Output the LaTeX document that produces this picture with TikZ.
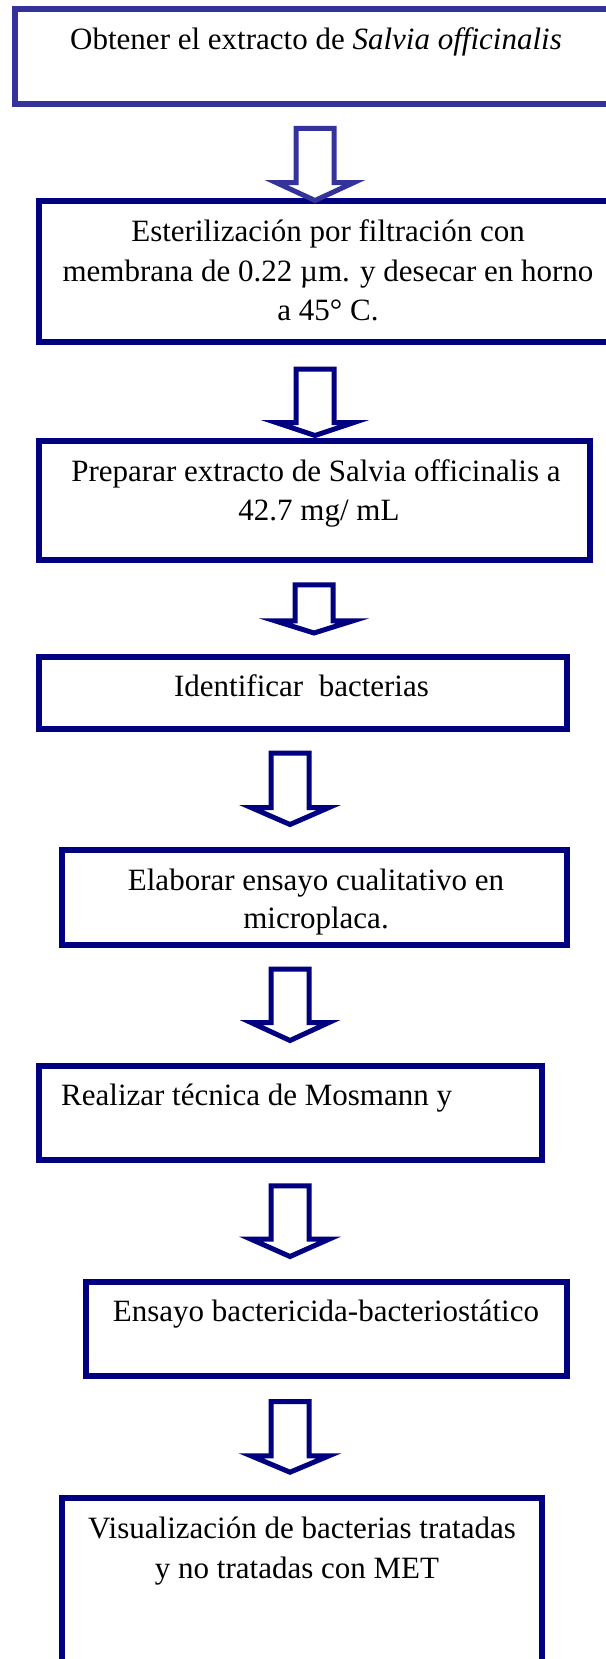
\documentclass[tikz,border=0pt]{standalone}
\usepackage{fontspec}
\setmainfont{Liberation Serif}
\definecolor{navy}{RGB}{0,0,128}
\definecolor{lightnavy}{RGB}{51,51,153}
\tikzset{
  stepbox/.style={draw=navy, line width=6pt, fill=white, rectangle, inner sep=0pt},
  firstbox/.style={stepbox, draw=lightnavy},
  txt/.style={font=\fontsize{31}{39.5}\selectfont, inner sep=0pt, anchor=base},
  barrow/.style={draw=navy, line width=5pt, fill=white, line join=miter},
  firstarrow/.style={barrow, draw=lightnavy},
}
% block arrow: style, center x, top y, shoulder y, tip y
\newcommand{\blockarr}[5]{%
  \draw[#1] (#2-19,#3) -- (#2-19,#4) -- (#2-39,#4) -- (#2,#5) -- (#2+39,#4)
    -- (#2+19,#4) -- (#2+19,#3) -- cycle;}
\begin{document}
\begin{tikzpicture}[x=1pt,y=-1pt]
\useasboundingbox (0,0) rectangle (605,1659);
\fill[white] (0,0) rectangle (605,1659);

% boxes
\node[firstbox, minimum width=597.4pt, minimum height=94.5pt] (b1) at (313.3,56.75) {};
\node[stepbox, minimum width=573.5pt, minimum height=140.7pt] (b2) at (325.25,271.65) {};
\node[stepbox, minimum width=551pt, minimum height=119.3pt] (b3) at (314,500.65) {};
\node[stepbox, minimum width=528pt, minimum height=71.4pt] (b4) at (302.5,693) {};
\node[stepbox, minimum width=504.5pt, minimum height=95.6pt] (b5) at (314.25,897.5) {};
\node[stepbox, minimum width=503.5pt, minimum height=94pt] (b6) at (290.25,1113.3) {};
\node[stepbox, minimum width=480.5pt, minimum height=94.3pt] (b7) at (326.25,1329.15) {};
\node[stepbox, minimum width=480pt, minimum height=199pt] (b8) at (302,1597.5) {};

% arrows
\blockarr{firstarrow}{315}{128.5}{182.5}{200.5}
\blockarr{barrow}{315}{369.2}{422.5}{435.5}
\blockarr{barrow}{314}{584.8}{620.8}{633}
\blockarr{barrow}{290}{753.2}{807.5}{824.5}
\blockarr{barrow}{290}{969.2}{1022.5}{1040.5}
\blockarr{barrow}{290}{1185.8}{1239.2}{1256.5}
\blockarr{barrow}{290}{1401.5}{1455.8}{1472.2}

% texts
\node[txt] (t1) at (316,49.3) {Obtener el extracto de \textit{Salvia officinalis}};
\node[txt] (t2a) at (328,241.7) {Esterilización por filtración con};
\node[txt] (t2b) at (328,281) {membrana de 0.22 µm. y desecar en horno};
\node[txt] (t2c) at (328,320.3) {a 45° C.};
\node[txt] (t3a) at (316,481.7) {Preparar extracto de Salvia officinalis a};
\node[txt] (t3b) at (319,520) {42.7 mg/ mL};
\node[txt] (t4) at (301.5,696.7) {Identificar\ \ bacterias};
\node[txt] (t5a) at (316,890) {Elaborar ensayo cualitativo en};
\node[txt] (t5b) at (316,928.3) {microplaca.};
\node[txt, anchor=base west] (t6) at (61,1105) {Realizar técnica de Mosmann y};
\node[txt] (t7) at (326,1321.7) {Ensayo bactericida-bacteriostático};
\node[txt] (t8a) at (302,1538.3) {Visualización de bacterias tratadas};
\node[txt] (t8b) at (297,1578.3) {y no tratadas con MET};
\end{tikzpicture}
\end{document}
